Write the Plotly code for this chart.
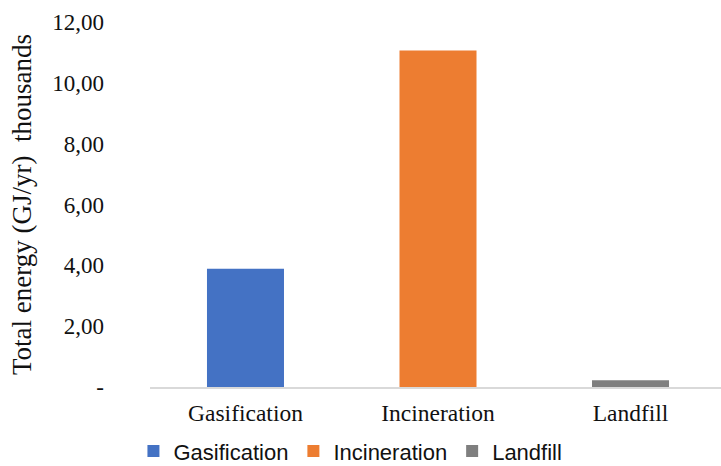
import plotly.graph_objects as go

# Total energy recovered per treatment route (thousands GJ/yr)
categories = ["Gasification", "Incineration", "Landfill"]
energy_thousands = [3.89, 11.06, 0.22]
bar_colors = ["#4472C4", "#ED7D31", "#7F7F7F"]

y_tick_values = [0, 2, 4, 6, 8, 10, 12]
y_tick_labels = ["-", "2,00", "4,00", "6,00", "8,00", "10,00", "12,00"]

serif = "Liberation Serif, Times New Roman, serif"
sans = "Liberation Sans, Arial, sans-serif"
text_color = "#111111"

fig = go.Figure()
for name, value, color in zip(categories, energy_thousands, bar_colors):
    fig.add_trace(go.Bar(
        x=[name], y=[value], name=name,
        marker=dict(color=color, line=dict(width=0)),
        width=0.4,
    ))

fig.update_layout(
    width=721, height=466,
    margin=dict(l=150, r=0, t=22, b=79, autoexpand=False),
    paper_bgcolor="white", plot_bgcolor="white",
    barmode="overlay",
    font=dict(family=serif, size=23.5, color=text_color),
    showlegend=True,
    legend=dict(
        orientation="h",
        x=-0.029, xanchor="left",
        y=-0.176, yanchor="middle",
        font=dict(family=sans, size=22, color=text_color),
        itemwidth=30,
        traceorder="normal",
        bgcolor="rgba(0,0,0,0)",
    ),
    xaxis=dict(
        type="category",
        range=[-0.496, 2.470],
        showline=True, linecolor="#d9d9d9", linewidth=1.5,
        showgrid=False, zeroline=False,
        ticks="",
        ticklabelstandoff=4,
        tickfont=dict(family=serif, size=23.5, color=text_color),
    ),
    yaxis=dict(
        range=[0, 12],
        tickvals=y_tick_values, ticktext=y_tick_labels,
        showgrid=False, zeroline=False, showline=False,
        ticks="",
        ticklabelstandoff=45,
        tickfont=dict(family=serif, size=23, color=text_color),
        title=dict(
            text="\u00a0Total energy (GJ/yr)\u00a0 thousands",
            font=dict(family=serif, size=27, color=text_color),
            standoff=12,
        ),
    ),
)

fig.write_html("out.html")
